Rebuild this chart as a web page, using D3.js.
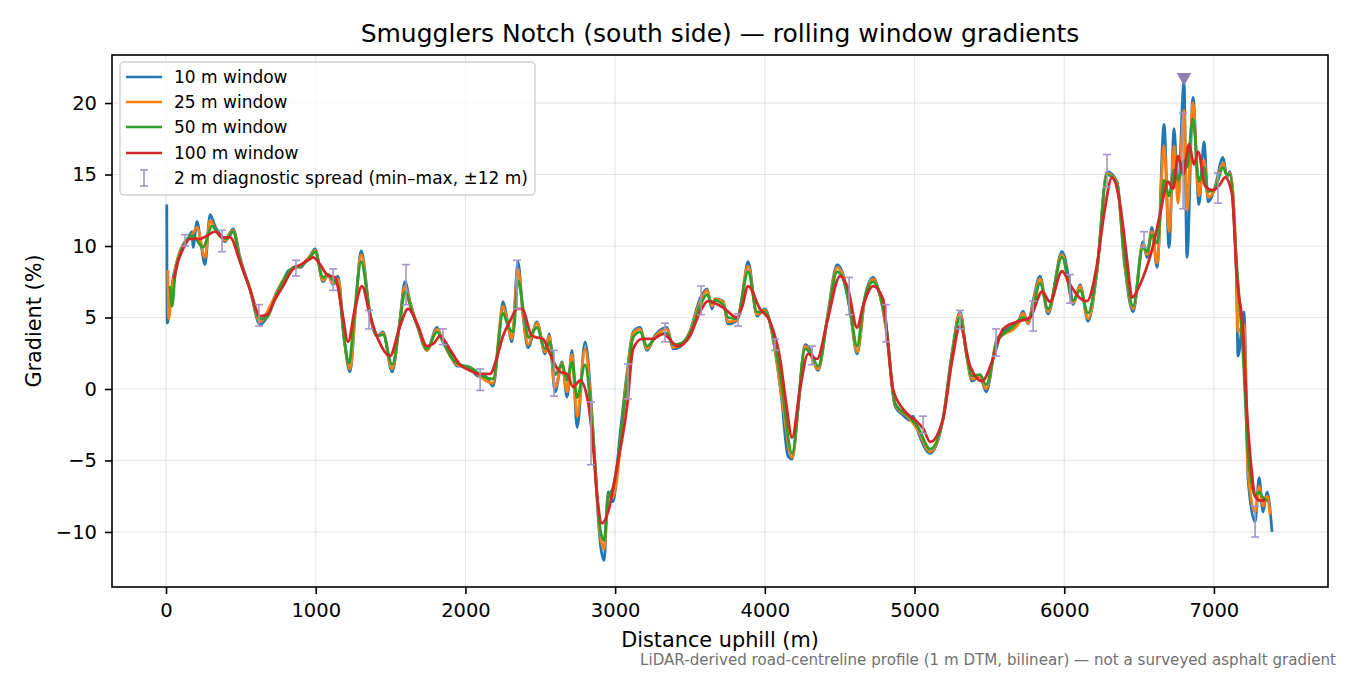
<!DOCTYPE html>
<html>
<head>
<meta charset="utf-8">
<script src="https://cdn.jsdelivr.net/npm/d3@7"></script>
<style>
  body { margin: 0; background: #fff; }
  text { font-family: "DejaVu Sans", sans-serif; fill: #000; }
</style>
</head>
<body>
<svg id="chart" width="1350" height="675"></svg>
<script>
// rolling window gradient series, [distance m, gradient %]
var win10 = [[5,12.9],[8,4.6],[25,5.8],[45,7.6],[70,8.8],[114,10.1],[150,10.6],[174,11.0],[180,9.9],[207,11.7],[230,10.4],[260,8.7],[294,12.2],[327,11.4],[360,10.8],[394,10.3],[420,10.8],[448,11.2],[494,9.2],[560,7.0],[628,4.5],[660,4.8],[700,5.8],[740,6.8],[782,7.6],[820,8.3],[848,8.4],[870,8.6],[900,8.5],[930,8.9],[962,9.3],[995,9.8],[1049,7.5],[1082,8.0],[1116,7.3],[1149,7.9],[1190,3.5],[1229,1.2],[1265,5.5],[1303,9.65],[1363,5.2],[1409,3.7],[1450,4.0],[1510,1.2],[1560,4.6],[1596,7.5],[1630,6.1],[1677,4.5],[1743,2.7],[1810,4.3],[1850,3.3],[1890,2.6],[1944,1.6],[2011,1.6],[2031,1.5],[2084,0.9],[2130,0.9],[2184,0.2],[2220,3.0],[2251,6.1],[2278,4.9],[2311,3.3],[2351,8.9],[2385,5.1],[2418,2.9],[2478,4.7],[2532,2.45],[2559,3.85],[2599,-0.2],[2645,1.9],[2679,-0.56],[2712,2.7],[2746,-2.7],[2799,3.3],[2846,-1.9],[2875,-7.0],[2900,-10.7],[2926,-12.0],[2953,-7.2],[2986,-7.9],[3030,-3.5],[3080,1.2],[3120,4.0],[3166,4.3],[3213,2.7],[3270,3.8],[3347,4.3],[3387,2.8],[3440,3.0],[3500,4.05],[3567,6.3],[3614,7.0],[3647,5.6],[3667,6.3],[3721,6.15],[3754,4.55],[3814,4.8],[3850,6.5],[3888,8.9],[3948,5.1],[4001,5.6],[4055,3.5],[4110,-0.5],[4155,-4.7],[4182,-4.9],[4225,-1.0],[4269,3.1],[4300,2.8],[4356,1.3],[4420,5.2],[4483,8.7],[4523,8.0],[4570,5.5],[4616,2.45],[4670,6.5],[4723,7.8],[4760,6.9],[4810,4.2],[4870,-1.2],[4920,-1.8],[4970,-2.2],[4990,-1.9],[5024,-3.0],[5104,-4.5],[5190,-2.1],[5250,2.5],[5304,5.4],[5350,2.2],[5384,0.56],[5438,0.9],[5478,-0.2],[5551,3.5],[5620,4.2],[5690,4.6],[5725,5.45],[5758,4.55],[5791,6.1],[5838,7.9],[5892,5.25],[5985,9.6],[6039,7.2],[6059,5.9],[6106,7.3],[6159,4.75],[6219,8.25],[6286,15.2],[6353,14.5],[6400,9.0],[6460,5.4],[6526,10.3],[6553,9.2],[6586,11.3],[6620,8.5],[6667,18.5],[6700,9.9],[6734,18.2],[6760,13.4],[6800,21.5],[6820,9.2],[6860,20.4],[6900,12.9],[6934,17.3],[6961,13.1],[7007,14.1],[7061,16.2],[7087,14.8],[7107,15.2],[7150,8.0],[7161,2.3],[7201,5.4],[7228,-6.3],[7275,-9.3],[7302,-6.2],[7328,-8.6],[7355,-7.2],[7388,-10.0]];

var win25 = [[12,8.3],[18,4.9],[35,6.5],[60,8.3],[114,10.1],[170,10.7],[207,11.3],[260,9.2],[294,11.8],[327,11.2],[394,10.4],[448,11.1],[494,9.1],[560,7.0],[628,4.7],[700,5.9],[782,7.6],[848,8.4],[900,8.6],[962,9.3],[995,9.7],[1049,7.6],[1082,8.0],[1116,7.4],[1149,7.7],[1190,3.5],[1229,1.4],[1265,5.5],[1303,9.4],[1363,5.2],[1409,3.7],[1450,3.9],[1510,1.4],[1560,4.6],[1596,7.2],[1630,6.0],[1677,4.5],[1743,2.7],[1810,4.2],[1850,3.3],[1944,1.7],[2031,1.5],[2084,1.0],[2184,0.4],[2251,5.8],[2278,4.8],[2311,3.5],[2351,8.4],[2385,5.2],[2418,3.1],[2478,4.6],[2532,2.6],[2559,3.7],[2599,0.1],[2645,1.8],[2679,-0.2],[2712,2.4],[2746,-1.9],[2799,2.8],[2846,-2.2],[2900,-10.2],[2926,-11.2],[2953,-7.4],[2986,-7.5],[3080,1.0],[3120,3.9],[3166,4.2],[3213,2.8],[3270,3.7],[3347,4.2],[3387,2.9],[3440,3.1],[3500,4.0],[3567,6.1],[3614,6.9],[3647,5.8],[3667,6.3],[3721,6.1],[3754,4.7],[3814,4.8],[3888,8.6],[3948,5.2],[4001,5.5],[4055,3.6],[4110,-0.3],[4182,-4.8],[4225,-1.0],[4269,3.0],[4356,1.4],[4420,5.1],[4483,8.5],[4523,7.9],[4570,5.5],[4616,2.6],[4670,6.4],[4723,7.7],[4760,6.9],[4810,4.3],[4870,-1.1],[4970,-2.1],[5024,-2.9],[5104,-4.4],[5190,-2.1],[5250,2.4],[5304,5.3],[5350,2.2],[5384,0.7],[5438,0.9],[5478,0.0],[5551,3.4],[5690,4.5],[5725,5.3],[5758,4.6],[5791,5.9],[5838,7.7],[5892,5.4],[5985,9.4],[6059,6.0],[6106,7.2],[6159,4.9],[6219,8.3],[6286,15.1],[6353,14.4],[6400,9.2],[6460,5.6],[6526,10.1],[6553,9.4],[6586,11.0],[6620,8.8],[6667,17.0],[6700,11.0],[6734,17.0],[6760,13.0],[6800,19.5],[6820,12.5],[6860,20.0],[6900,13.5],[6934,16.0],[6961,13.4],[7007,14.0],[7061,15.8],[7087,14.9],[7107,15.1],[7150,8.5],[7161,4.0],[7201,4.5],[7228,-5.8],[7275,-8.6],[7302,-6.8],[7328,-8.2],[7355,-7.5],[7375,-8.8]];

var win50 = [[27,7.2],[40,5.8],[60,7.9],[114,10.0],[180,10.7],[247,9.9],[307,11.4],[361,10.7],[408,10.5],[448,11.0],[494,9.0],[560,7.0],[628,4.9],[675,5.0],[730,6.4],[782,7.5],[848,8.5],[900,8.6],[962,9.2],[995,9.6],[1049,7.8],[1082,8.0],[1116,7.6],[1150,7.2],[1190,3.5],[1222,1.8],[1260,5.5],[1303,8.9],[1363,5.3],[1409,3.7],[1450,3.8],[1510,1.7],[1560,4.5],[1596,6.8],[1640,5.5],[1690,4.1],[1743,2.8],[1810,4.0],[1850,3.3],[1920,2.0],[1990,1.6],[2050,1.4],[2098,1.0],[2184,0.7],[2251,5.3],[2285,4.4],[2320,4.0],[2351,7.6],[2390,5.3],[2420,3.6],[2478,4.3],[2532,2.8],[2565,3.3],[2600,1.0],[2645,1.7],[2680,0.6],[2712,1.9],[2746,-0.6],[2799,1.7],[2846,-2.5],[2900,-9.8],[2926,-10.6],[2953,-7.6],[2986,-6.9],[3080,0.5],[3120,3.6],[3166,4.0],[3213,3.0],[3270,3.6],[3347,3.9],[3387,3.1],[3440,3.2],[3500,3.9],[3567,5.8],[3614,6.6],[3647,6.0],[3667,6.2],[3721,5.9],[3754,5.0],[3814,4.9],[3888,8.2],[3948,5.4],[4001,5.4],[4055,3.8],[4110,0.5],[4182,-4.5],[4269,2.8],[4310,2.4],[4356,1.6],[4420,5.0],[4483,8.2],[4523,7.7],[4570,5.5],[4616,3.0],[4660,6.0],[4723,7.5],[4760,6.9],[4810,4.5],[4870,-1.0],[4970,-2.0],[5024,-2.7],[5104,-4.2],[5190,-2.1],[5250,2.3],[5304,5.0],[5350,2.3],[5384,0.9],[5438,1.0],[5478,0.3],[5551,3.3],[5650,4.3],[5725,5.0],[5758,4.8],[5791,5.6],[5838,7.4],[5892,5.6],[5985,9.2],[6059,6.2],[6106,6.9],[6159,5.3],[6219,8.4],[6286,15.0],[6353,14.3],[6400,9.5],[6460,5.8],[6526,9.9],[6553,9.6],[6586,10.8],[6620,10.2],[6667,14.6],[6700,13.5],[6734,15.3],[6760,14.6],[6800,16.0],[6820,15.5],[6860,18.9],[6900,14.5],[6934,15.5],[6961,13.8],[7007,14.0],[7061,15.5],[7087,15.0],[7107,15.0],[7150,9.0],[7194,2.5],[7228,-4.5],[7250,-6.5],[7275,-7.5],[7302,-7.2],[7328,-7.6],[7355,-7.8]];

var win100 = [[53,7.7],[80,8.9],[114,9.8],[160,10.5],[227,10.5],[270,10.7],[327,11.0],[380,10.6],[428,10.6],[494,8.9],[560,7.0],[628,5.1],[675,5.2],[730,6.3],[782,7.2],[848,8.4],[900,8.7],[962,9.1],[982,9.2],[1030,8.7],[1075,8.0],[1129,7.8],[1175,5.5],[1216,3.3],[1260,5.5],[1309,7.2],[1363,5.1],[1420,3.4],[1496,2.3],[1560,4.3],[1617,5.6],[1680,4.5],[1743,3.0],[1790,3.2],[1830,3.7],[1900,2.7],[1964,1.7],[2030,1.3],[2084,1.05],[2164,1.05],[2210,2.2],[2251,3.7],[2300,4.8],[2345,5.6],[2378,5.6],[2445,3.7],[2518,3.5],[2565,2.45],[2632,1.2],[2679,1.05],[2719,0.14],[2766,0.6],[2819,-0.9],[2853,-4.0],[2880,-7.5],[2912,-9.4],[2953,-8.6],[3013,-5.4],[3080,-1.2],[3120,2.8],[3180,3.5],[3253,3.5],[3320,3.85],[3420,3.0],[3500,3.7],[3567,5.4],[3620,6.15],[3721,5.7],[3814,5.0],[3850,5.8],[3888,7.2],[3968,5.6],[4035,4.7],[4102,2.1],[4140,-0.8],[4182,-3.4],[4235,0],[4289,2.45],[4349,2.1],[4416,4.7],[4503,7.9],[4556,7.0],[4616,4.3],[4656,5.8],[4723,7.2],[4790,6.3],[4820,3.5],[4856,0],[4923,-1.4],[5017,-2.3],[5060,-2.8],[5104,-3.7],[5190,-2.1],[5250,1.9],[5304,4.4],[5371,1.6],[5451,0.56],[5524,2.1],[5591,4.2],[5685,4.7],[5772,5.0],[5852,6.8],[5905,6.1],[5985,8.25],[6039,7.3],[6100,6.4],[6152,6.15],[6219,8.7],[6270,12.5],[6319,14.8],[6373,12.9],[6420,9.0],[6453,6.4],[6506,7.3],[6560,8.8],[6593,10.0],[6640,12.2],[6693,14.5],[6727,14.0],[6760,16.3],[6794,15.0],[6834,17.1],[6867,15.7],[6894,16.6],[6941,14.2],[6994,13.9],[7040,14.3],[7074,14.8],[7121,13.6],[7154,7.7],[7194,4.1],[7221,-1.6],[7250,-5.5],[7275,-7.5],[7308,-7.8],[7341,-7.8]];

// 2 m diagnostic spread (min-max within +-12 m)
var spreadDist = [127,374,621,868,1116,1356,1603,1850,2098,2345,2592,2839,3086,3333,3574,3821,4068,4316,4563,4810,5057,5304,5545,5792,6039,6286,6533,6794,7027,7275];
var spreadLow  = [10.0,9.6,4.4,7.9,6.9,4.2,5.9,3.1,-0.1,5.6,-0.5,-5.3,-0.7,3.3,5.2,4.4,2.7,1.7,5.2,3.3,-3.1,4.2,2.3,4.05,6.0,14.1,9.9,12.6,13.0,-10.35];
var spreadHigh = [10.8,11.1,5.9,9.0,8.4,5.5,8.7,4.2,1.4,9.0,2.7,-0.9,1.75,4.6,7.2,5.25,3.5,3.0,7.8,5.9,-1.9,5.5,4.2,6.15,8.0,16.4,11.0,19.3,15.1,-8.2];

// steepest point marker
var peakDist = 6800, peakValue = 21.8;

var xTicks = [0,1000,2000,3000,4000,5000,6000,7000];
var yTicks = [-10,-5,0,5,10,15,20];

var seriesNames = ['10 m window','25 m window','50 m window','100 m window'];
var seriesData = [win10, win25, win50, win100];
var seriesColors = ['#1f77b4','#ff7f0e','#2ca02c','#d62728'];

var pL = 112, pR = 1328, pT = 55, pB = 587;
var svg = d3.select('#chart');

var x = d3.scaleLinear().domain([-361, 7762]).range([pL, pR]);
var y = d3.scaleLinear().domain([-13.85, 23.36]).range([pB, pT]);

// grid
var grid = svg.append('g');
grid.selectAll('line.gx').data(xTicks).enter().append('line')
    .attr('x1', function(d) { return x(d); }).attr('x2', function(d) { return x(d); })
    .attr('y1', pT).attr('y2', pB)
    .attr('stroke', '#b0b0b0').attr('stroke-opacity', 0.3).attr('stroke-width', 1.2);
grid.selectAll('line.gy').data(yTicks).enter().append('line')
    .attr('x1', pL).attr('x2', pR)
    .attr('y1', function(d) { return y(d); }).attr('y2', function(d) { return y(d); })
    .attr('stroke', '#b0b0b0').attr('stroke-opacity', 0.3).attr('stroke-width', 1.2);

// lines
var line = d3.line()
    .x(function(d) { return x(d[0]); })
    .y(function(d) { return y(d[1]); })
    .curve(d3.curveMonotoneX);

svg.append('g').selectAll('path').data(seriesData).enter().append('path')
    .attr('d', line)
    .attr('fill', 'none')
    .attr('stroke', function(d, i) { return seriesColors[i]; })
    .attr('stroke-width', 2.8)
    .attr('stroke-linejoin', 'round');

// error bars
var errColor = '#a595c6';
var eb = svg.append('g').selectAll('g').data(spreadDist).enter().append('g');
eb.append('line')
    .attr('x1', function(d) { return x(d); }).attr('x2', function(d) { return x(d); })
    .attr('y1', function(d, i) { return y(spreadLow[i]); })
    .attr('y2', function(d, i) { return y(spreadHigh[i]); })
    .attr('stroke', errColor).attr('stroke-width', 1.6);
eb.append('line')
    .attr('x1', function(d) { return x(d) - 4; }).attr('x2', function(d) { return x(d) + 4; })
    .attr('y1', function(d, i) { return y(spreadLow[i]); })
    .attr('y2', function(d, i) { return y(spreadLow[i]); })
    .attr('stroke', errColor).attr('stroke-width', 1.6);
eb.append('line')
    .attr('x1', function(d) { return x(d) - 4; }).attr('x2', function(d) { return x(d) + 4; })
    .attr('y1', function(d, i) { return y(spreadHigh[i]); })
    .attr('y2', function(d, i) { return y(spreadHigh[i]); })
    .attr('stroke', errColor).attr('stroke-width', 1.6);

// peak marker
svg.append('path')
    .attr('d', d3.symbol().type(d3.symbolTriangle).size(95))
    .attr('transform', 'translate(' + x(peakDist) + ',' + y(peakValue) + ') rotate(180)')
    .attr('fill', '#8a7fb0');

// frame
svg.append('rect')
    .attr('x', pL).attr('y', pT).attr('width', pR - pL).attr('height', pB - pT)
    .attr('fill', 'none').attr('stroke', '#000').attr('stroke-width', 1.6);

// axes
var xAxis = svg.append('g').attr('transform', 'translate(0,' + pB + ')')
    .call(d3.axisBottom(x).tickValues(xTicks).tickSize(7).tickPadding(9).tickFormat(d3.format('d')));
var yAxis = svg.append('g').attr('transform', 'translate(' + pL + ',0)')
    .call(d3.axisLeft(y).tickValues(yTicks).tickSize(7).tickPadding(8)
        .tickFormat(function(d) { return d < 0 ? '\u2212' + Math.abs(d) : d; }));
[xAxis, yAxis].forEach(function(a) {
    a.select('.domain').remove();
    a.selectAll('.tick line').attr('stroke', '#000').attr('stroke-width', 1.6);
    a.selectAll('.tick text').attr('font-family', 'DejaVu Sans').attr('font-size', '19.5px').attr('fill', '#000');
});

// titles
svg.append('text').attr('x', (pL + pR) / 2).attr('y', 42)
    .attr('text-anchor', 'middle').attr('font-size', '25px')
    .text('Smugglers Notch (south side) \u2014 rolling window gradients');
svg.append('text').attr('x', (pL + pR) / 2).attr('y', 647)
    .attr('text-anchor', 'middle').attr('font-size', '20.8px')
    .text('Distance uphill (m)');
svg.append('text').attr('transform', 'translate(41,' + ((pT + pB) / 2) + ') rotate(-90)')
    .attr('text-anchor', 'middle').attr('font-size', '20.8px')
    .text('Gradient (%)');
svg.append('text').attr('x', 1336).attr('y', 665)
    .attr('text-anchor', 'end').attr('font-size', '15.1px').style('fill', '#707070')
    .text('LiDAR-derived road-centreline profile (1 m DTM, bilinear) \u2014 not a surveyed asphalt gradient');

// legend
var lg = svg.append('g');
lg.append('rect').attr('x', 120).attr('y', 62).attr('width', 415).attr('height', 133).attr('rx', 4)
    .attr('fill', '#fff').attr('fill-opacity', 0.8).attr('stroke', '#d0d0d0').attr('stroke-width', 1.4);
var rowY = [77, 102, 127, 153, 178];
seriesNames.forEach(function(name, i) {
    lg.append('line').attr('x1', 126).attr('x2', 162).attr('y1', rowY[i]).attr('y2', rowY[i])
        .attr('stroke', seriesColors[i]).attr('stroke-width', 2.6);
    lg.append('text').attr('x', 174).attr('y', rowY[i] + 6).attr('font-size', '17px').text(name);
});
var ey = rowY[4];
lg.append('line').attr('x1', 144).attr('x2', 144).attr('y1', ey - 8).attr('y2', ey + 8)
    .attr('stroke', errColor).attr('stroke-width', 1.6);
[ey - 8, ey + 8].forEach(function(v) {
    lg.append('line').attr('x1', 140).attr('x2', 148).attr('y1', v).attr('y2', v)
        .attr('stroke', errColor).attr('stroke-width', 1.6);
});
lg.append('text').attr('x', 174).attr('y', ey + 6).attr('font-size', '17px')
    .text('2 m diagnostic spread (min\u2013max, \u00b112 m)');
</script>
</body>
</html>
